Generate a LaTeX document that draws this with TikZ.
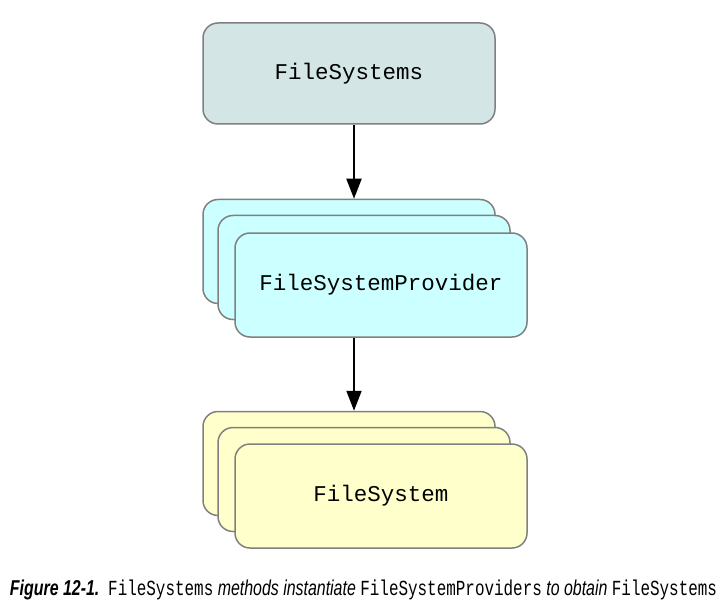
\documentclass[tikz,border=0pt]{standalone}
\usepackage{fontspec}
\setmainfont{Liberation Sans}
\setmonofont{Liberation Mono}
\usetikzlibrary{arrows.meta}
\definecolor{fsfill}{RGB}{211,229,229}
\definecolor{provfill}{RGB}{204,255,255}
\definecolor{sysfill}{RGB}{255,255,204}
\definecolor{edge}{RGB}{128,128,128}
\tikzset{
  boxstyle/.style={draw=edge, line width=1.5pt, rounded corners=15pt, inner sep=0pt,
    minimum width=292pt, minimum height=104pt, font=\fontsize{22.5}{24}\selectfont\ttfamily},
  arr/.style={line width=2pt, -{Triangle[width=15pt,length=20pt]}}
}
\begin{document}
\begin{tikzpicture}[x=1pt,y=-1pt]
\useasboundingbox[fill=white] (0,0) rectangle (727,612);
% top
\node[boxstyle, fill=fsfill, minimum height=101pt] (fs) at (349,73.5) {FileSystems};
% provider stack
\node[boxstyle, fill=provfill] (pb) at (349,251.5) {};
\node[boxstyle, fill=provfill] (pm) at (364,267.5) {};
\node[boxstyle, fill=provfill] (pf) at (381,285) {FileSystemProvider};
% filesystem stack
\node[boxstyle, fill=sysfill] (sb) at (349,463.5) {};
\node[boxstyle, fill=sysfill] (sm) at (364,479.5) {};
\node[boxstyle, fill=sysfill] (sf) at (381,496) {FileSystem};
% arrows
\draw[arr] ([xshift=5pt]fs.south) -- ([xshift=5pt]pb.north);
\draw[arr] ([xshift=-27pt]pf.south) -- ([xshift=5pt]sb.north);
% caption
\node[inner sep=0pt] (cap) at (363.5,589.5) {\scalebox{1}[1.35]{\resizebox{707pt}{!}{\itshape\textbf{Figure 12-1.}\ \ \texttt{\upshape FileSystems} methods instantiate \texttt{\upshape FileSystemProviders} to obtain \texttt{\upshape FileSystems}}}};
\end{tikzpicture}
\end{document}
